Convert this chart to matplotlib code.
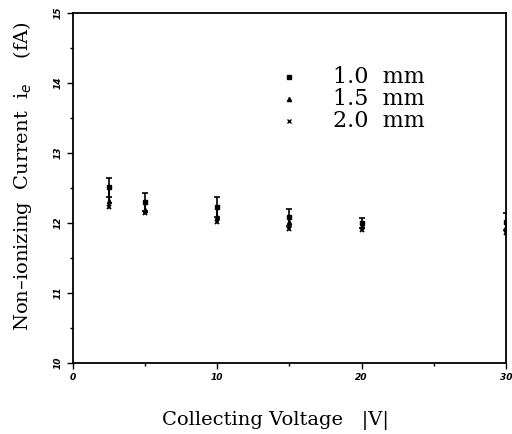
import numpy as np
import matplotlib.pyplot as plt
from matplotlib.ticker import MultipleLocator

# collecting voltage |V|
voltage = [2.5, 5, 10, 15, 20, 30]
# non-ionizing current (fA) per electrode gap
cur_10 = [12.51, 12.30, 12.23, 12.08, 12.00, 12.02]
err_10 = [0.14, 0.13, 0.14, 0.12, 0.07, 0.12]
cur_15 = [12.32, 12.19, 12.09, 12.02, 11.96, 11.95]
cur_20 = [12.23, 12.14, 12.01, 11.92, 11.90, 11.86]
legend_labels = ['1.0  mm', '1.5  mm', '2.0  mm']

fig = plt.figure(figsize=(5.12, 4.34), dpi=100)
ax = fig.add_axes([0.1426, 0.1636, 0.8454, 0.8064])

ax.errorbar(voltage, cur_10, yerr=err_10, fmt='s', ms=3.5, color='black',
            ecolor='black', elinewidth=1.2, capsize=2.5, capthick=1.2)
ax.plot(voltage, cur_15, '^', ms=3, color='black')
ax.plot(voltage, cur_20, 'x', ms=3, mew=1.3, color='black')
# connecting line through the stacked points
for v, a, b in zip(voltage, cur_10, cur_20):
    ax.plot([v, v], [b, a], color='black', lw=1.5)

ax.set_xlim(0, 30)
ax.set_ylim(10, 15)
ax.xaxis.set_major_locator(MultipleLocator(10))
ax.xaxis.set_minor_locator(MultipleLocator(5))
ax.yaxis.set_major_locator(MultipleLocator(1))
ax.yaxis.set_minor_locator(MultipleLocator(0.5))
ax.tick_params(which='major', direction='out', length=4, width=1,
               labelsize=6.5)
ax.tick_params(which='minor', direction='out', length=2, width=1)
for lab in ax.get_xticklabels():
    lab.set_fontstyle('italic')
    lab.set_fontweight('bold')
for lab in ax.get_yticklabels():
    lab.set_rotation(90)
    lab.set_va('center')
    lab.set_fontstyle('italic')
    lab.set_fontweight('bold')
for s in ax.spines.values():
    s.set_linewidth(1.3)

# legend drawn as text
mk = ['s', '^', 'x']
for i, (m, lab) in enumerate(zip(mk, legend_labels)):
    yy = 14.08 - i * 0.31
    ax.plot([15.0], [yy], m, ms=3, mew=1, color='black')
    ax.text(18.0, yy, lab, fontsize=16, family='DejaVu Serif',
            va='center', ha='left')

fig.text(0.537, 0.01, 'Collecting Voltage   |V|', fontsize=14,
         family='DejaVu Serif', ha='center', va='bottom')
fig.text(0.043, 0.594, 'Non\u2013ionizing  Current  i$_{e}$    (fA)',
         fontsize=14, family='DejaVu Serif', rotation=90,
         ha='center', va='center')

fig.savefig('out.png', dpi=100)
